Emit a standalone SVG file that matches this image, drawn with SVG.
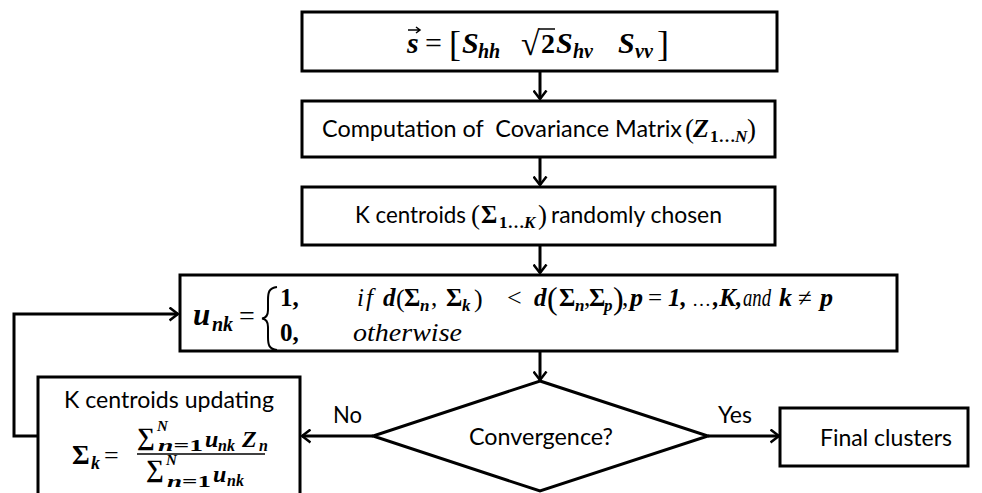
<svg xmlns="http://www.w3.org/2000/svg" width="982" height="493" viewBox="0 0 982 493">
<defs>
<marker id="ah" markerUnits="userSpaceOnUse" viewBox="0 0 10 15" refX="9" refY="7.5" markerWidth="10" markerHeight="15" orient="auto">
<path d="M0.5,1 L9,7.5 L0.5,14" fill="none" stroke="#000" stroke-width="2.5"/>
</marker>
<style>
.box{fill:#fff;stroke:#000;stroke-width:3}
.con{fill:none;stroke:#000;stroke-width:3}
.thin{fill:none;stroke:#000;stroke-width:1.5}
.lbl{font-family:Lato,"Liberation Sans",sans-serif;font-size:23px;fill:#000;white-space:pre}
.m{font-family:"Liberation Serif","DejaVu Serif",serif;fill:#000}
.bi{font-weight:bold;font-style:italic}
.b{font-weight:bold}
.i{font-style:italic}
</style>
</defs>
<rect x="0" y="0" width="982" height="493" fill="#fff"/>

<g id="connectors">
<line class="con" x1="540" y1="72" x2="540" y2="99" marker-end="url(#ah)"/>
<line class="con" x1="540" y1="158" x2="540" y2="185" marker-end="url(#ah)"/>
<line class="con" x1="540" y1="246" x2="540" y2="273" marker-end="url(#ah)"/>
<line class="con" x1="540" y1="352" x2="540" y2="380" marker-end="url(#ah)"/>
<line class="con" x1="373" y1="436" x2="302" y2="436" marker-end="url(#ah)"/>
<line class="con" x1="708" y1="436" x2="779" y2="436" marker-end="url(#ah)"/>
<polyline class="con" points="37,436 14,436 14,314 178,314" marker-end="url(#ah)"/>
<text class="lbl" x="333" y="423" textLength="29" lengthAdjust="spacingAndGlyphs">No</text>
<text class="lbl" x="718" y="423" textLength="34" lengthAdjust="spacingAndGlyphs">Yes</text>
</g>

<g id="n1">
<rect class="box" x="302" y="12" width="475" height="59"/>
<text class="m bi" x="407" y="53" font-size="30">s</text>
<path class="thin" d="M408,30 L420,30 M416,27 L420,30 L416,33"/>
<text class="m" x="425" y="53" font-size="30">=</text>
<text class="m" x="449" y="56" font-size="36">[</text>
<text class="m bi" x="462" y="53" font-size="30">S</text>
<text class="m bi" x="478" y="58" font-size="20">hh</text>
<text class="m" x="521" y="55" font-size="34">√</text>
<line class="thin" x1="539" y1="29" x2="555" y2="29"/>
<text class="m b" x="541" y="53" font-size="28">2</text>
<text class="m bi" x="556" y="53" font-size="30">S</text>
<text class="m bi" x="573" y="58" font-size="20">hv</text>
<text class="m bi" x="618" y="53" font-size="30">S</text>
<text class="m bi" x="635" y="58" font-size="20">vv</text>
<text class="m" x="657" y="56" font-size="36">]</text>
</g>

<g id="n2">
<rect class="box" x="302" y="101" width="473" height="56"/>
<text class="lbl" x="322" y="137" textLength="360" lengthAdjust="spacingAndGlyphs">Computation of  Covariance Matrix</text>
<text class="m" x="685" y="138" font-size="27">(</text>
<text class="m bi" x="693" y="137" font-size="26">Z</text>
<text class="m b" x="710" y="142" font-size="17">1…</text>
<text class="m bi" x="735" y="142" font-size="17">N</text>
<text class="m" x="747" y="138" font-size="27">)</text>
</g>

<g id="n3">
<rect class="box" x="302" y="187" width="473" height="58"/>
<text class="lbl" x="355" y="223" textLength="111" lengthAdjust="spacingAndGlyphs">K centroids</text>
<text class="m" x="471" y="224" font-size="27">(</text>
<text class="m b" x="481" y="223" font-size="25">Σ</text>
<text class="m b" x="499" y="228" font-size="17">1…</text>
<text class="m bi" x="524" y="228" font-size="17">K</text>
<text class="m" x="538" y="224" font-size="27">)</text>
<text class="lbl" x="551" y="223" textLength="171" lengthAdjust="spacingAndGlyphs">randomly chosen</text>
</g>

<g id="n4">
<rect class="box" x="180" y="275" width="717" height="76"/>
<text class="m bi" x="193" y="325" font-size="31">u</text>
<text class="m bi" x="212" y="331" font-size="20">nk</text>
<text class="m" x="239" y="325" font-size="28">=</text>
<path class="con" style="stroke-width:2" d="M277,287 C269,288 268,292 268,300 L268,310 C268,316 266,318 262,318.5 C266,319 268,321 268,327 L268,337 C268,345 269,349 277,350"/>
<text class="m b" x="280" y="306" font-size="25">1,</text>
<text class="m b" x="280" y="341" font-size="25">0,</text>
<text class="m i" x="357" y="306" font-size="25" letter-spacing="2">if</text>
<text class="m bi" x="383" y="306" font-size="25">d</text>
<text class="m" x="396" y="307" font-size="26">(</text>
<text class="m b" x="404" y="306" font-size="25">Σ</text>
<text class="m bi" x="420" y="311" font-size="17">n</text>
<text class="m" x="431" y="306" font-size="25">,</text>
<text class="m b" x="446" y="306" font-size="25">Σ</text>
<text class="m bi" x="462" y="311" font-size="17">k</text>
<text class="m" x="474" y="307" font-size="26">)</text>
<text class="m" x="507" y="306" font-size="26">&lt;</text>
<text class="m bi" x="534" y="306" font-size="25">d</text>
<text class="m" x="547" y="309" font-size="32">(</text>
<text class="m b" x="559" y="306" font-size="25">Σ</text>
<text class="m bi" x="575" y="311" font-size="17">n</text>
<text class="m" x="584" y="306" font-size="25">,</text>
<text class="m b" x="589" y="306" font-size="25">Σ</text>
<text class="m bi" x="604" y="311" font-size="17">p</text>
<text class="m" x="613" y="309" font-size="32">)</text>
<text class="m" x="622" y="306" font-size="25">,</text>
<text class="m bi" x="630" y="306" font-size="26">p</text>
<text class="m" x="648" y="306" font-size="25">=</text>
<text class="m bi" x="668" y="306" font-size="25">1,</text>
<text class="m" x="692" y="306" font-size="19">…</text>
<text class="m bi" x="713" y="306" font-size="25">,K,</text>
<text class="m i" x="743" y="306" font-size="25" textLength="28" lengthAdjust="spacingAndGlyphs">and</text>
<text class="m bi" x="779" y="306" font-size="26">k</text>
<text class="m" x="798" y="306" font-size="25">≠</text>
<text class="m bi" x="820" y="306" font-size="26">p</text>
<text class="m i" x="353" y="341" font-size="25" textLength="109" lengthAdjust="spacingAndGlyphs">otherwise</text>
</g>

<g id="n5">
<rect class="box" x="38" y="377" width="262" height="135"/>
<text class="lbl" x="64" y="408" textLength="210" lengthAdjust="spacingAndGlyphs">K centroids updating</text>
<text class="m b" x="72" y="464" font-size="27">Σ</text>
<text class="m bi" x="91" y="469" font-size="18">k</text>
<text class="m" x="104" y="464" font-size="26">=</text>
<text class="m b" x="137" y="445" font-size="25">∑</text>
<text class="m bi" x="157" y="431" font-size="15">N</text>
<text class="m b" x="158" y="451" font-size="16" textLength="45" lengthAdjust="spacingAndGlyphs"><tspan font-style="italic">n</tspan>=1</text>
<text class="m bi" x="205" y="447" font-size="24">u</text>
<text class="m bi" x="218" y="451" font-size="16">nk</text>
<text class="m bi" x="242" y="447" font-size="24">Z</text>
<text class="m bi" x="259" y="451" font-size="16">n</text>
<line class="thin" x1="137" y1="454" x2="265" y2="454"/>
<text class="m b" x="146" y="477" font-size="25">∑</text>
<text class="m bi" x="166" y="465" font-size="15">N</text>
<text class="m b" x="167" y="487" font-size="16" textLength="44" lengthAdjust="spacingAndGlyphs"><tspan font-style="italic">n</tspan>=1</text>
<text class="m bi" x="213" y="482" font-size="24">u</text>
<text class="m bi" x="227" y="486" font-size="16">nk</text>
</g>

<g id="n6">
<polygon class="box" points="540,381 708,436 540,491 373,436"/>
<text class="lbl" x="469" y="445" textLength="144" lengthAdjust="spacingAndGlyphs">Convergence?</text>
</g>

<g id="n7">
<rect class="box" x="780" y="408" width="188" height="58"/>
<text class="lbl" x="820" y="446" textLength="132" lengthAdjust="spacingAndGlyphs">Final clusters</text>
</g>
</svg>
